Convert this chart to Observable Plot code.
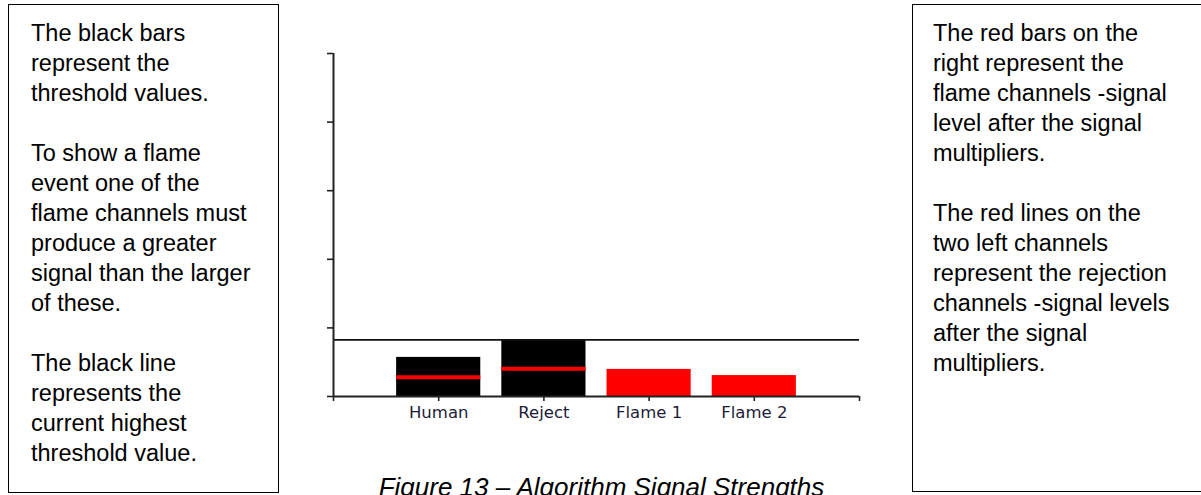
<!DOCTYPE html>
<html>
<head>
<meta charset="utf-8">
<script src="https://cdn.jsdelivr.net/npm/d3@7"></script>
<script src="https://cdn.jsdelivr.net/npm/@observablehq/plot@0.6"></script>
<style>
  html, body { margin: 0; padding: 0; background: #fff; width: 1201px; height: 495px; overflow: hidden; position: relative; }
  .box { position: absolute; box-sizing: border-box; border: 1.5px solid #000; font-family: "Liberation Sans", Arial, sans-serif; font-size: 23.5px; line-height: 30px; color: #000; }
  .box p { margin: 0 0 30px 0; white-space: nowrap; }
  #left { left: 8px; top: 4px; width: 271px; height: 489px; padding: 13px 0 0 22px; }
  #right { left: 912px; top: 4px; width: 300px; height: 488px; padding: 13px 0 0 20px; }
  #chart { position: absolute; left: 290px; top: 40px; }
  #caption { position: absolute; left: 1px; width: 1201px; top: 472px; line-height: 30px; text-align: center; font-family: "Liberation Sans", Arial, sans-serif; font-style: italic; font-size: 26px; white-space: nowrap; }
</style>
</head>
<body>
<div id="left" class="box">
  <p>The black bars<br>represent the<br>threshold values.</p>
  <p>To show a flame<br>event one of the<br>flame channels must<br>produce a greater<br>signal than the larger<br>of these.</p>
  <p>The black line<br>represents the<br>current highest<br>threshold value.</p>
</div>
<div id="right" class="box">
  <p>The red bars on the<br>right represent the<br>flame channels -signal<br>level after the signal<br>multipliers.</p>
  <p>The red lines on the<br>two left channels<br>represent the rejection<br>channels -signal levels<br>after the signal<br>multipliers.</p>
</div>
<div id="chart"></div>
<div id="caption">Figure 13 – Algorithm Signal Strengths</div>
<script>
// Data (arbitrary signal units, axis 0–100)
const categories = ["Human", "Reject", "Flame 1", "Flame 2"];
const thresholdValues = [11.4, 16.5, null, null];   // black bars
const flameSignals = [null, null, 7.9, 6.1];         // red bars
const rejectionSignals = [5.6, 8.1, null, null];     // red lines on black bars
const highestThreshold = 16.5;                       // black horizontal line
const yTicks = [0, 20, 40, 60, 80, 100];
const xTicks = [0, 1, 2, 3, 4, 5];

const rows = categories.map((c, i) => ({
  name: c, pos: i + 1,
  threshold: thresholdValues[i],
  flame: flameSignals[i],
  rejection: rejectionSignals[i]
}));
const half = 0.4;
const blackRows = rows.filter(d => d.threshold != null);
const redRows = rows.filter(d => d.flame != null);
const lineRows = rows.filter(d => d.rejection != null);

const chart = Plot.plot({
  width: 590,
  height: 400,
  marginLeft: 43,
  marginRight: 21,
  marginTop: 13,
  marginBottom: 44,
  style: { fontFamily: "DejaVu Sans, sans-serif", fontSize: "16px", color: "#1c1c38", background: "#fff" },
  x: { domain: [0, 5], ticks: xTicks, axis: null },
  y: { domain: [0, 100], ticks: yTicks, axis: null },
  marks: [
    Plot.rectY(blackRows, { x1: d => d.pos - half, x2: d => d.pos + half, y: "threshold", fill: "#000" }),
    Plot.rectY(redRows, { x1: d => d.pos - half, x2: d => d.pos + half, y: "flame", fill: "#ff0000" }),
    Plot.ruleY(lineRows, { y: "rejection", x1: d => d.pos - half, x2: d => d.pos + half, stroke: "#ff0000", strokeWidth: 4 }),
    Plot.ruleY([highestThreshold], { x1: 0, x2: 5, stroke: "#111", strokeWidth: 1.6 }),
    Plot.axisY({ ticks: yTicks, tickSize: 6, tickFormat: () => "", stroke: "#222", strokeWidth: 1.6 }),
    Plot.axisX({ ticks: xTicks, tickSize: 5, tickPadding: 5, stroke: "#222", strokeWidth: 1.6,
      tickFormat: v => categories[v - 1] ?? "", fill: "#1c1c38", fontSize: 16.5 }),
    Plot.ruleX([0], { y1: 0, y2: 100, stroke: "#222", strokeWidth: 2 }),
    Plot.ruleY([0], { x1: 0, x2: 5, stroke: "#222", strokeWidth: 2 })
  ]
});
document.getElementById("chart").appendChild(chart);
</script>
</body>
</html>
